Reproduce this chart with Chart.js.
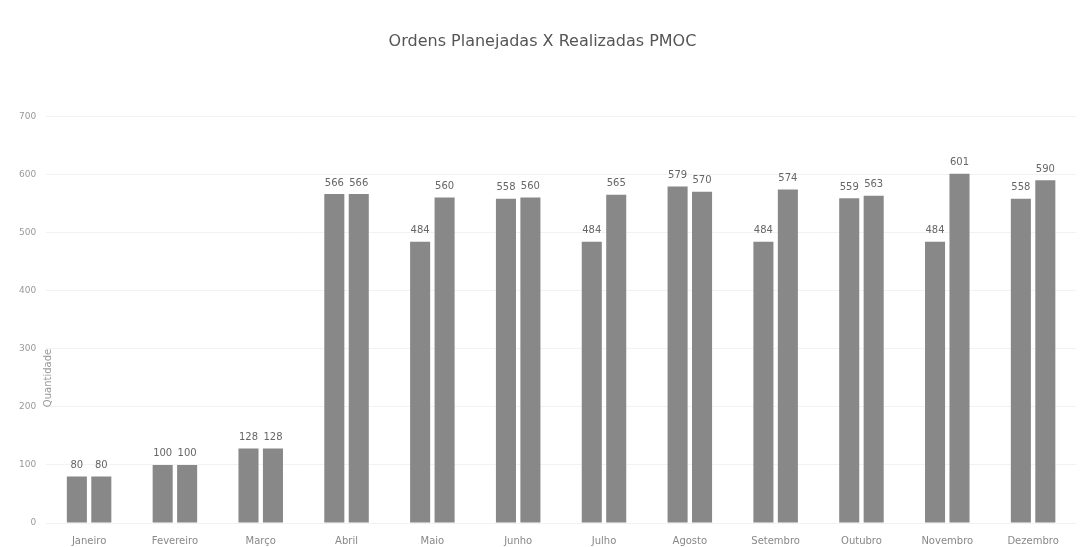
<!DOCTYPE html>
<html>
<head>
<meta charset="utf-8">
<script src="https://cdn.jsdelivr.net/npm/chart.js@4/dist/chart.umd.min.js"></script>
<style>
  html, body { margin: 0; padding: 0; background: #fff; }
  #wrap { width: 1084px; height: 547px; position: relative; }
</style>
</head>
<body>
<div id="wrap"><canvas id="c"></canvas></div>
<script>
const MONTHS = ['Janeiro', 'Fevereiro', 'Março', 'Abril', 'Maio', 'Junho', 'Julho', 'Agosto', 'Setembro', 'Outubro', 'Novembro', 'Dezembro'];
const PLANEJADAS = [80, 100, 128, 566, 484, 558, 484, 579, 484, 559, 484, 558];
const REALIZADAS = [80, 100, 128, 566, 560, 560, 565, 570, 574, 563, 601, 590];
const Y_TICKS = [0, 100, 200, 300, 400, 500, 600, 700];

// numbers above each bar (no datalabels plugin offline)
const barLabels = {
  id: 'barLabels',
  afterDatasetsDraw(chart) {
    const { ctx } = chart;
    ctx.save();
    ctx.font = '10px "DejaVu Sans", sans-serif';
    ctx.fillStyle = '#666';
    ctx.textAlign = 'center';
    ctx.textBaseline = 'bottom';
    chart.data.datasets.forEach((ds, i) => {
      chart.getDatasetMeta(i).data.forEach((bar, j) => {
        ctx.fillText(String(ds.data[j]), bar.x, bar.y - 6);
      });
    });
    ctx.restore();
  },
};

// Excel-style axis title sitting between tick labels and the plot
const yTitle = {
  id: 'yTitle',
  afterDraw(chart) {
    const { ctx, chartArea } = chart;
    ctx.save();
    ctx.translate(chartArea.left + 2, 378);
    ctx.rotate(-Math.PI / 2);
    ctx.font = '10px "DejaVu Sans", sans-serif';
    ctx.fillStyle = '#999';
    ctx.textAlign = 'center';
    ctx.textBaseline = 'middle';
    ctx.fillText('Quantidade', 0, 0);
    ctx.restore();
  },
};

new Chart(document.getElementById('c'), {
  type: 'bar',
  data: {
    labels: MONTHS,
    datasets: [
      { label: 'Planejadas', data: PLANEJADAS, backgroundColor: '#888' },
      { label: 'Realizadas', data: REALIZADAS, backgroundColor: '#888' },
    ],
  },
  options: {
    responsive: true,
    maintainAspectRatio: false,
    animation: false,
    layout: { padding: { left: 9, right: 8, top: 32, bottom: -4 } },
    datasets: { bar: { categoryPercentage: 0.57, barPercentage: 0.82 } },
    plugins: {
      legend: { display: false },
      tooltip: { enabled: false },
      title: {
        display: true,
        text: 'Ordens Planejadas X Realizadas PMOC',
        color: '#555',
        font: { family: '"DejaVu Sans", sans-serif', size: 16, weight: 'normal' },
        padding: { top: 0, bottom: 65 },
      },
    },
    scales: {
      x: {
        grid: { display: false },
        border: { display: false },
        ticks: { color: '#888', font: { family: '"DejaVu Sans", sans-serif', size: 10 }, maxRotation: 0, padding: 4 },
      },
      y: {
        min: 0,
        max: 700,
        afterBuildTicks: (axis) => { axis.ticks = Y_TICKS.map((v) => ({ value: v })); },
        grid: { color: 'rgba(0,0,0,0.05)', drawTicks: false },
        border: { display: false },
        ticks: { color: '#999', font: { family: '"DejaVu Sans", sans-serif', size: 9 }, padding: 10 },
      },
    },
  },
  plugins: [barLabels, yTitle],
});
</script>
</body>
</html>
